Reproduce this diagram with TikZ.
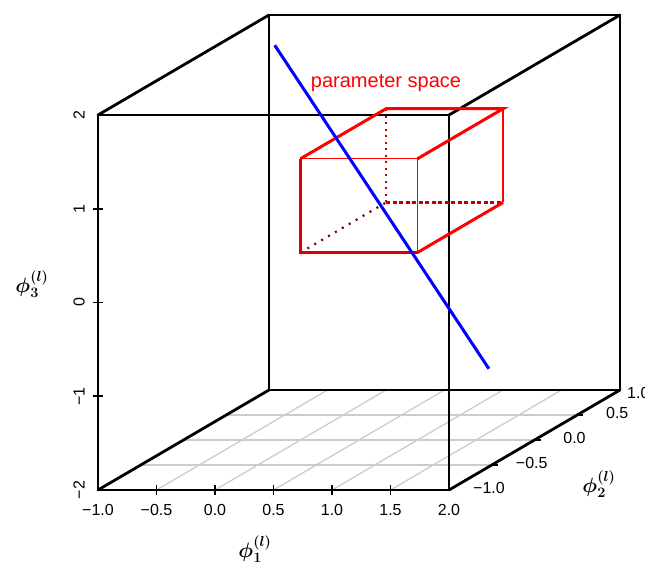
\documentclass[tikz,border=0pt]{standalone}
\usepackage{amsmath,amssymb}
\usepackage{fontspec}
\setmainfont{Liberation Sans}
\usepackage{tikz}
\usetikzlibrary{positioning}

\begin{document}
\begin{tikzpicture}[
    x={(117pt,0pt)}, y={(85.5pt,50pt)}, z={(0pt,93.75pt)},
    cadre/.style={line width=2.8pt, line cap=round},
    grille/.style={line width=1.3pt, black!20},
    graduation/.style={line width=1.8pt},
    chiffre/.style={font=\fontsize{16}{18}\selectfont, inner sep=0pt},
    axe/.style={font=\huge\boldmath, inner sep=0pt},
    arete/.style={red, line width=3pt},
    fine/.style={red, line width=1.3pt},
    cachee/.style={red!75!black, line width=2.2pt}]

  \useasboundingbox (-300.5pt,-314.5pt) rectangle (344.5pt,252.5pt);

  % --- grille du plancher ---
  \foreach \u in {-0.5,0,0.5,1,1.5}
    \draw[grille] (\u,-1,-2) -- (\u,1,-2);
  \foreach \v in {-0.5,0,0.5}
    \draw[grille] (-1,\v,-2) -- (2,\v,-2);

  % --- cube ---
  \draw[cadre] (-1,-1,-2) rectangle (2,-1,2);
  \draw[cadre] (-1,1,-2) rectangle (2,1,2);
  \foreach \u/\w in {-1/-2, 2/-2, -1/2, 2/2}
    \draw[cadre] (\u,-1,\w) -- (\u,1,\w);

  % --- graduations ---
  \foreach \u in {-0.5,0,0.5,1,1.5}
    \draw[graduation] ([yshift=-5pt]\u,-1,-2) -- ([yshift=5pt]\u,-1,-2);
  \foreach \w in {-1,0,1}
    \draw[graduation] ([xshift=-5pt]-1,-1,\w) -- ([xshift=5pt]-1,-1,\w);
  \foreach \v in {-0.5,0,0.5}
    \draw[graduation] (2,\v,-2) -- ([xshift=6pt]2,\v,-2);

  \foreach \u/\t in {-1/−1.0, -0.5/−0.5, 0/0.0, 0.5/0.5, 1/1.0, 1.5/1.5, 2/2.0}
    \node[chiffre] at ([yshift=-20pt]\u,-1,-2) {\t};
  \foreach \w/\t in {-2/−2, -1/−1, 0/0, 1/1, 2/2}
    \node[chiffre, rotate=90] at ([xshift=-19pt]-1,-1,\w) {\t};
  \foreach \v/\t in {-1/−1.0, -0.5/−0.5, 0/0.0, 0.5/0.5}
    \node[chiffre] at ([xshift=40pt,yshift=2pt]2,\v,-2) {\t};
  \node[chiffre, anchor=west] at ([xshift=7pt,yshift=-3pt]2,1,-2) {1.0};

  % --- pave des parametres ---
  \coordinate (avbg) at (0,0,0);
  \coordinate (avbd) at (1,0,0);
  \coordinate (avhg) at (0,0,1);
  \coordinate (avhd) at (1,0,1);
  \coordinate (arbg) at (0,1,0);
  \coordinate (arbd) at (1,1,0);
  \coordinate (arhg) at (0,1,1);
  \coordinate (arhd) at (1,1,1);

  \draw[cachee, red!45!black, dash pattern=on 2pt off 6pt] (avbg) -- (arbg);
  \draw[cachee, dash pattern=on 2pt off 4.5pt] (arbg) -- (arhg);
  \draw[cachee, dash pattern=on 4pt off 2.5pt] (arbg) -- (arbd);
  \draw[fine] (avhg) -- (avhd) -- (avbd);
  \draw[fine] (arbd) -- (arhd);
  \draw[red!85!black, line width=2.5pt] (avhg) -- (avbg) -- (avbd);
  \draw[arete] (avhg) -- (arhg) -- (arhd) -- (avhd);
  \draw[arete] (avbd) -- (arbd);

  \node[red, font=\fontsize{20}{23}\selectfont, anchor=base] at ([yshift=21pt]arhg) {parameter space};

  % --- droite ---
  \coordinate (ligne-a) at (-0.22,0,2.21);
  \coordinate (ligne-b) at (1.61,0,-1.24);
  \draw[blue, line width=3pt] (ligne-a) -- (ligne-b);

  % --- noms des axes ---
  \node[axe] at ([xshift=-18.5pt,yshift=-59pt]0.5,-1,-2) {$\phi_1^{(l)}$};
  \node[axe] at ([xshift=64.5pt,yshift=-44pt]2,0,-2) {$\phi_2^{(l)}$};
  \node[axe] at ([xshift=-66pt,yshift=18pt]-1,-1,0) {$\phi_3^{(l)}$};
\end{tikzpicture}
\end{document}
